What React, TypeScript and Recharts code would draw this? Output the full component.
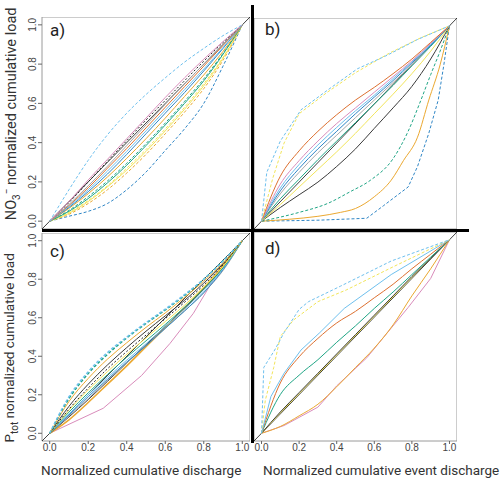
import React from 'react'
import { LineChart, Line, XAxis, YAxis, ReferenceArea, ReferenceLine } from 'recharts'

// shared x positions for the smooth curves
const xs = [0, 0.1, 0.2, 0.3, 0.4, 0.5, 0.6, 0.7, 0.8, 0.9, 1]
const axisTicks = [0, 0.2, 0.4, 0.6, 0.8, 1]
const DOMAIN: [number, number] = [-0.04, 1.04]

// a) NO3- vs cumulative discharge
const aSkyDashed = [0, 0.16, 0.31, 0.44, 0.55, 0.645, 0.73, 0.81, 0.88, 0.945, 1]
const aPink = [0, 0.1, 0.21, 0.315, 0.42, 0.525, 0.63, 0.73, 0.825, 0.915, 1]
const aBlackDotted = [0, 0.095, 0.2, 0.305, 0.41, 0.515, 0.615, 0.715, 0.815, 0.91, 1]
const aGray = [0, 0.085, 0.18, 0.28, 0.385, 0.49, 0.595, 0.7, 0.8, 0.9, 1]
const aVermilion = [0, 0.08, 0.17, 0.27, 0.37, 0.475, 0.58, 0.685, 0.79, 0.895, 1]
const aSky = [0, 0.075, 0.16, 0.255, 0.355, 0.46, 0.565, 0.67, 0.775, 0.885, 1]
const aBlue = [0, 0.07, 0.15, 0.24, 0.34, 0.445, 0.55, 0.655, 0.765, 0.88, 1]
const aOrange = [0, 0.065, 0.14, 0.225, 0.32, 0.42, 0.525, 0.635, 0.745, 0.865, 1]
const aTealDashed = [0, 0.055, 0.125, 0.205, 0.295, 0.395, 0.5, 0.61, 0.725, 0.855, 1]
const aTeal = [0, 0.05, 0.115, 0.195, 0.285, 0.385, 0.49, 0.6, 0.715, 0.85, 1]
const aYellowDashed = [0, 0.045, 0.105, 0.18, 0.27, 0.365, 0.47, 0.58, 0.7, 0.835, 1]
const aYellow = [0, 0.04, 0.1, 0.175, 0.26, 0.355, 0.46, 0.57, 0.69, 0.83, 1]
const aOrangeDashed = [0, 0.035, 0.09, 0.16, 0.245, 0.34, 0.445, 0.555, 0.675, 0.82, 1]
const aBlueDashed = [0, 0.025, 0.05, 0.09, 0.16, 0.25, 0.36, 0.47, 0.6, 0.79, 1]

// b) NO3- vs cumulative event discharge
const bVermilion = [0, 0.23, 0.36, 0.46, 0.545, 0.62, 0.685, 0.755, 0.83, 0.915, 1]
const bPink = [0, 0.19, 0.31, 0.41, 0.5, 0.58, 0.66, 0.74, 0.82, 0.91, 1]
const bSky = [0, 0.17, 0.29, 0.39, 0.48, 0.565, 0.645, 0.73, 0.815, 0.905, 1]
const bBlue = [0, 0.155, 0.27, 0.37, 0.46, 0.55, 0.635, 0.72, 0.81, 0.9, 1]
const bGray = [0, 0.14, 0.25, 0.35, 0.44, 0.53, 0.62, 0.71, 0.8, 0.9, 1]
const bTeal = [0, 0.115, 0.215, 0.315, 0.41, 0.505, 0.6, 0.695, 0.795, 0.895, 1]
const bYellow = [0, 0.085, 0.175, 0.265, 0.355, 0.45, 0.55, 0.65, 0.755, 0.87, 1]
const bBlack = [0, 0.07, 0.135, 0.2, 0.28, 0.37, 0.475, 0.58, 0.69, 0.83, 1]
const bSkyDashedX = [0, 0.028, 0.1, 0.21, 0.35, 0.51, 0.67, 0.83, 1]
const bSkyDashedY = [0, 0.25, 0.41, 0.57, 0.67, 0.78, 0.85, 0.93, 1]
const bYellowDashedX = [0, 0.06, 0.12, 0.2, 0.35, 0.5, 0.68, 0.85, 1]
const bYellowDashedY = [0, 0.22, 0.4, 0.55, 0.66, 0.76, 0.86, 0.94, 1]
const bTealDashedX = [0, 0.2, 0.35, 0.47, 0.58, 0.7, 0.78, 0.84, 0.9, 0.95, 1]
const bTealDashedY = [0, 0.045, 0.09, 0.15, 0.21, 0.32, 0.46, 0.6, 0.75, 0.87, 1]
const bOrangeX = [0, 0.15, 0.3, 0.42, 0.5, 0.6, 0.69, 0.755, 0.83, 0.89, 0.95, 1]
const bOrangeY = [0, 0.01, 0.025, 0.045, 0.065, 0.125, 0.21, 0.31, 0.43, 0.62, 0.8, 1]
const bBlueDashedX = [0, 0.3, 0.56, 0.65, 0.78, 0.83, 0.89, 0.94, 0.97, 1]
const bBlueDashedY = [0, 0.005, 0.015, 0.08, 0.175, 0.28, 0.45, 0.62, 0.8, 1]

// c) Ptot vs cumulative discharge
const cSkyDashed = [0, 0.19, 0.32, 0.42, 0.5, 0.575, 0.645, 0.72, 0.8, 0.895, 1]
const cTealDashed = [0, 0.18, 0.31, 0.41, 0.495, 0.57, 0.64, 0.715, 0.8, 0.895, 1]
const cOrangeUpper = [0, 0.165, 0.285, 0.385, 0.47, 0.55, 0.625, 0.705, 0.79, 0.885, 1]
const cBlackUpper = [0, 0.14, 0.255, 0.355, 0.445, 0.53, 0.61, 0.69, 0.78, 0.88, 1]
const cBlackDotted = [0, 0.125, 0.235, 0.335, 0.425, 0.51, 0.595, 0.68, 0.77, 0.875, 1]
const cYellow = [0, 0.12, 0.225, 0.32, 0.41, 0.495, 0.58, 0.665, 0.76, 0.865, 1]
const cTeal = [0, 0.11, 0.21, 0.305, 0.395, 0.48, 0.565, 0.655, 0.75, 0.86, 1]
const cSky = [0, 0.1, 0.2, 0.29, 0.38, 0.465, 0.555, 0.645, 0.74, 0.855, 1]
const cBlue = [0, 0.095, 0.19, 0.28, 0.37, 0.455, 0.545, 0.635, 0.73, 0.85, 1]
const cGray = [0, 0.09, 0.18, 0.275, 0.365, 0.455, 0.545, 0.635, 0.73, 0.845, 1]
const cBlackLower = [0, 0.085, 0.175, 0.27, 0.365, 0.46, 0.555, 0.65, 0.75, 0.86, 1]
const cOrangeLower = [0, 0.07, 0.16, 0.255, 0.35, 0.45, 0.55, 0.65, 0.755, 0.87, 1]
const cPinkX = [0, 0.278, 0.477, 0.625, 0.746, 0.85, 1]
const cPinkY = [0, 0.13, 0.3, 0.467, 0.623, 0.797, 1]

// d) Ptot vs cumulative event discharge
const dSkyDashedX = [0, 0.012, 0.07, 0.12, 0.2, 0.25, 0.42, 0.69, 1]
const dSkyDashedY = [0, 0.34, 0.43, 0.52, 0.64, 0.68, 0.76, 0.89, 1]
const dYellowDashedX = [0, 0.02, 0.065, 0.1, 0.17, 0.3, 0.45, 0.7, 1]
const dYellowDashedY = [0, 0.17, 0.34, 0.5, 0.585, 0.68, 0.74, 0.86, 1]
const dSkyX = [0, 0.05, 0.12, 0.21, 0.31, 0.44, 0.69, 1]
const dSkyY = [0, 0.19, 0.31, 0.43, 0.52, 0.645, 0.82, 1]
const dVermilion = [0, 0.26, 0.395, 0.49, 0.57, 0.63, 0.7, 0.77, 0.85, 0.925, 1]
const dTeal = [0, 0.2, 0.3, 0.38, 0.47, 0.555, 0.645, 0.73, 0.82, 0.91, 1]
const dBlack = [0, 0.11, 0.21, 0.31, 0.41, 0.51, 0.61, 0.71, 0.81, 0.905, 1]
const dYellow = [0, 0.105, 0.205, 0.305, 0.405, 0.505, 0.605, 0.705, 0.805, 0.905, 1]
const dOrange = [0, 0.035, 0.09, 0.15, 0.24, 0.34, 0.44, 0.56, 0.71, 0.85, 1]
const dPinkX = [0, 0.03, 0.12, 0.3, 0.4, 0.56, 0.78, 0.9, 1]
const dPinkY = [0, 0.01, 0.04, 0.135, 0.245, 0.39, 0.65, 0.8, 1]

const BLACK = '#222222'
const ORANGE = '#EBA830'
const SKY = '#6EC0EE'
const TEAL = '#1FA585'
const YELLOW = '#F2E55A'
const BLUE = '#2F86C6'
const VERMIL = '#DD7030'
const PINK = '#D98CBB'
const GRAY = '#A8A8A8'

const TICK_FONT = '"Liberation Sans", Arial, sans-serif'
const TITLE_FONT = 'Roboto, "Noto Sans", sans-serif'

type Pt = { x: number; y: number }
type Series = { pts: Pt[]; color: string; dash?: string; width?: number; linear?: boolean }

const onGrid = (ys: number[]): Pt[] => ys.map((y, i) => ({ x: xs[i], y }))
const paired = (px: number[], py: number[]): Pt[] => px.map((x, i) => ({ x, y: py[i] }))

const DASH = '3 2'

const panelA: Series[] = [
  { pts: onGrid(aBlueDashed), color: BLUE, dash: DASH },
  { pts: onGrid(aOrangeDashed), color: ORANGE, dash: DASH },
  { pts: onGrid(aYellow), color: YELLOW },
  { pts: onGrid(aYellowDashed), color: YELLOW, dash: DASH },
  { pts: onGrid(aTeal), color: TEAL },
  { pts: onGrid(aTealDashed), color: TEAL, dash: DASH },
  { pts: onGrid(aOrange), color: ORANGE },
  { pts: onGrid(aBlue), color: BLUE },
  { pts: onGrid(aSky), color: SKY },
  { pts: onGrid(aVermilion), color: VERMIL },
  { pts: onGrid(aGray), color: GRAY },
  { pts: onGrid(aBlackDotted), color: BLACK, dash: '2 2' },
  { pts: onGrid(aPink), color: PINK },
  { pts: onGrid(aSkyDashed), color: SKY, dash: DASH },
]

const panelB: Series[] = [
  { pts: paired(bBlueDashedX, bBlueDashedY), color: BLUE, dash: DASH, linear: true },
  { pts: paired(bOrangeX, bOrangeY), color: ORANGE },
  { pts: paired(bTealDashedX, bTealDashedY), color: TEAL, dash: DASH },
  { pts: onGrid(bBlack), color: '#3a3a3a' },
  { pts: onGrid(bYellow), color: YELLOW },
  { pts: onGrid(bTeal), color: TEAL },
  { pts: onGrid(bGray), color: GRAY },
  { pts: onGrid(bBlue), color: BLUE },
  { pts: onGrid(bSky), color: SKY },
  { pts: onGrid(bPink), color: PINK },
  { pts: onGrid(bVermilion), color: VERMIL },
  { pts: paired(bYellowDashedX, bYellowDashedY), color: YELLOW, dash: DASH, linear: true },
  { pts: paired(bSkyDashedX, bSkyDashedY), color: SKY, dash: DASH, linear: true },
]

const panelC: Series[] = [
  { pts: paired(cPinkX, cPinkY), color: PINK, linear: true },
  { pts: onGrid(cOrangeLower), color: ORANGE, width: 1.6 },
  { pts: onGrid(cBlackLower), color: '#3a3a3a' },
  { pts: onGrid(cGray), color: GRAY },
  { pts: onGrid(cBlue), color: BLUE },
  { pts: onGrid(cSky), color: SKY },
  { pts: onGrid(cTeal), color: TEAL },
  { pts: onGrid(cYellow), color: YELLOW },
  { pts: onGrid(cBlackDotted), color: BLACK, dash: '2 2' },
  { pts: onGrid(cBlackUpper), color: '#3a3a3a' },
  { pts: onGrid(cOrangeUpper), color: ORANGE },
  { pts: onGrid(cTealDashed), color: TEAL, dash: DASH, width: 1.4 },
  { pts: onGrid(cSkyDashed), color: SKY, dash: DASH, width: 1.4 },
]

const panelD: Series[] = [
  { pts: paired(dPinkX, dPinkY), color: PINK, linear: true },
  { pts: onGrid(dOrange), color: ORANGE },
  { pts: onGrid(dYellow), color: YELLOW },
  { pts: onGrid(dBlack), color: '#3a3a3a' },
  { pts: onGrid(dTeal), color: TEAL },
  { pts: onGrid(dVermilion), color: VERMIL },
  { pts: paired(dSkyX, dSkyY), color: SKY, linear: true },
  { pts: paired(dYellowDashedX, dYellowDashedY), color: YELLOW, dash: DASH, linear: true },
  { pts: paired(dSkyDashedX, dSkyDashedY), color: SKY, dash: DASH, linear: true },
]

const fmt = (v: number) => v.toFixed(1)

// y tick labels are rotated like base R's default las=0
const YTick = ({ x, y, payload }: any) => (
  <text
    x={x}
    y={y}
    transform={`rotate(-90 ${x} ${y})`}
    textAnchor="middle"
    fontSize={10}
    fill="#444"
    fontFamily={TICK_FONT}
  >
    {fmt(payload.value)}
  </text>
)

interface PanelProps {
  lines: Series[]
  left: number
  top: number
  width: number
  height: number
  showX?: boolean
  showY?: boolean
}

function Panel({ lines, left, top, width, height, showX, showY }: PanelProps) {
  return (
    <div style={{ position: 'absolute', left, top }}>
      <LineChart width={width} height={height} margin={{ top: 0, right: 0, bottom: 0, left: 0 }}>
        <XAxis
          type="number"
          dataKey="x"
          domain={DOMAIN}
          ticks={axisTicks}
          interval={0}
          allowDataOverflow
          hide={!showX}
          height={16}
          axisLine={false}
          tickLine={{ stroke: '#666' }}
          tickSize={3}
          tickMargin={0}
          tick={{ fontSize: 10, fill: '#444', fontFamily: TICK_FONT }}
          tickFormatter={fmt}
        />
        <YAxis
          type="number"
          dataKey="y"
          domain={DOMAIN}
          ticks={axisTicks}
          interval={0}
          allowDataOverflow
          hide={!showY}
          width={40}
          axisLine={false}
          tickLine={{ stroke: '#666' }}
          tickSize={4}
          tick={(p: any) => <YTick {...p} />}
        />
        <ReferenceArea
          x1={-0.04}
          x2={1.04}
          y1={-0.04}
          y2={1.04}
          fill="none"
          stroke="#9a9a9a"
          strokeWidth={1}
          ifOverflow="visible"
        />
        <ReferenceLine
          segment={[{ x: -0.04, y: -0.04 }, { x: 1.04, y: 1.04 }]}
          stroke="#111"
          strokeWidth={0.8}
          ifOverflow="visible"
        />
        {lines.map((s, i) => (
          <Line
            key={i}
            data={s.pts}
            dataKey="y"
            type={s.linear ? 'linear' : 'monotone'}
            stroke={s.color}
            strokeWidth={s.width ?? 1}
            strokeDasharray={s.dash}
            dot={false}
            activeDot={false}
            isAnimationActive={false}
          />
        ))}
      </LineChart>
    </div>
  )
}

const tagStyle: React.CSSProperties = {
  position: 'absolute',
  fontFamily: TITLE_FONT,
  fontSize: 17,
  fontWeight: 400,
  lineHeight: '17px',
  color: '#222',
}

const titleStyle: React.CSSProperties = {
  position: 'absolute',
  fontFamily: TITLE_FONT,
  fontSize: 13.5,
  fontWeight: 400,
  lineHeight: '16px',
  color: '#333',
  whiteSpace: 'nowrap',
}

const yTitleStyle = (cy: number, size: number): React.CSSProperties => ({
  ...titleStyle,
  fontSize: size,
  left: 12 - 120,
  top: cy - 8,
  width: 240,
  textAlign: 'center',
  transform: 'rotate(-90deg)',
  transformOrigin: '50% 50%',
})

export default function App() {
  return (
    <div
      style={{
        position: 'absolute',
        left: 0,
        top: 0,
        width: 500,
        height: 481,
        background: '#fff',
        overflow: 'hidden',
      }}
    >
      <Panel lines={panelA} left={2} top={17} width={248} height={212} showY />
      <Panel lines={panelB} left={254} top={18} width={203} height={211} />
      <Panel lines={panelC} left={2} top={233} width={248} height={224} showX showY />
      <Panel lines={panelD} left={254} top={232} width={203} height={225} showX />

      <div style={{ ...tagStyle, left: 50, top: 22 }}>a)</div>
      <div style={{ ...tagStyle, left: 265, top: 21 }}>b)</div>
      <div style={{ ...tagStyle, left: 50, top: 243 }}>c)</div>
      <div style={{ ...tagStyle, left: 265, top: 240 }}>d)</div>

      <div style={yTitleStyle(109, 14.5)}>
        NO<sub style={{ fontSize: 10 }}>3</sub>
        <sup style={{ fontSize: 10 }}>−</sup> normalized cumulative load
      </div>
      <div style={yTitleStyle(345, 13.5)}>
        P<sub style={{ fontSize: 10 }}>tot</sub> normalized cumulative load
      </div>

      <div style={{ ...titleStyle, left: 41, top: 462 }}>Normalized cumulative discharge</div>
      <div style={{ ...titleStyle, left: 263, top: 462 }}>Normalized cumulative event discharge</div>

      {/* heavy separators between the four panels */}
      <div style={{ position: 'absolute', left: 42, top: 229, width: 427, height: 3, background: '#000' }} />
      <div style={{ position: 'absolute', left: 251, top: 5, width: 3, height: 438, background: '#000' }} />
    </div>
  )
}
